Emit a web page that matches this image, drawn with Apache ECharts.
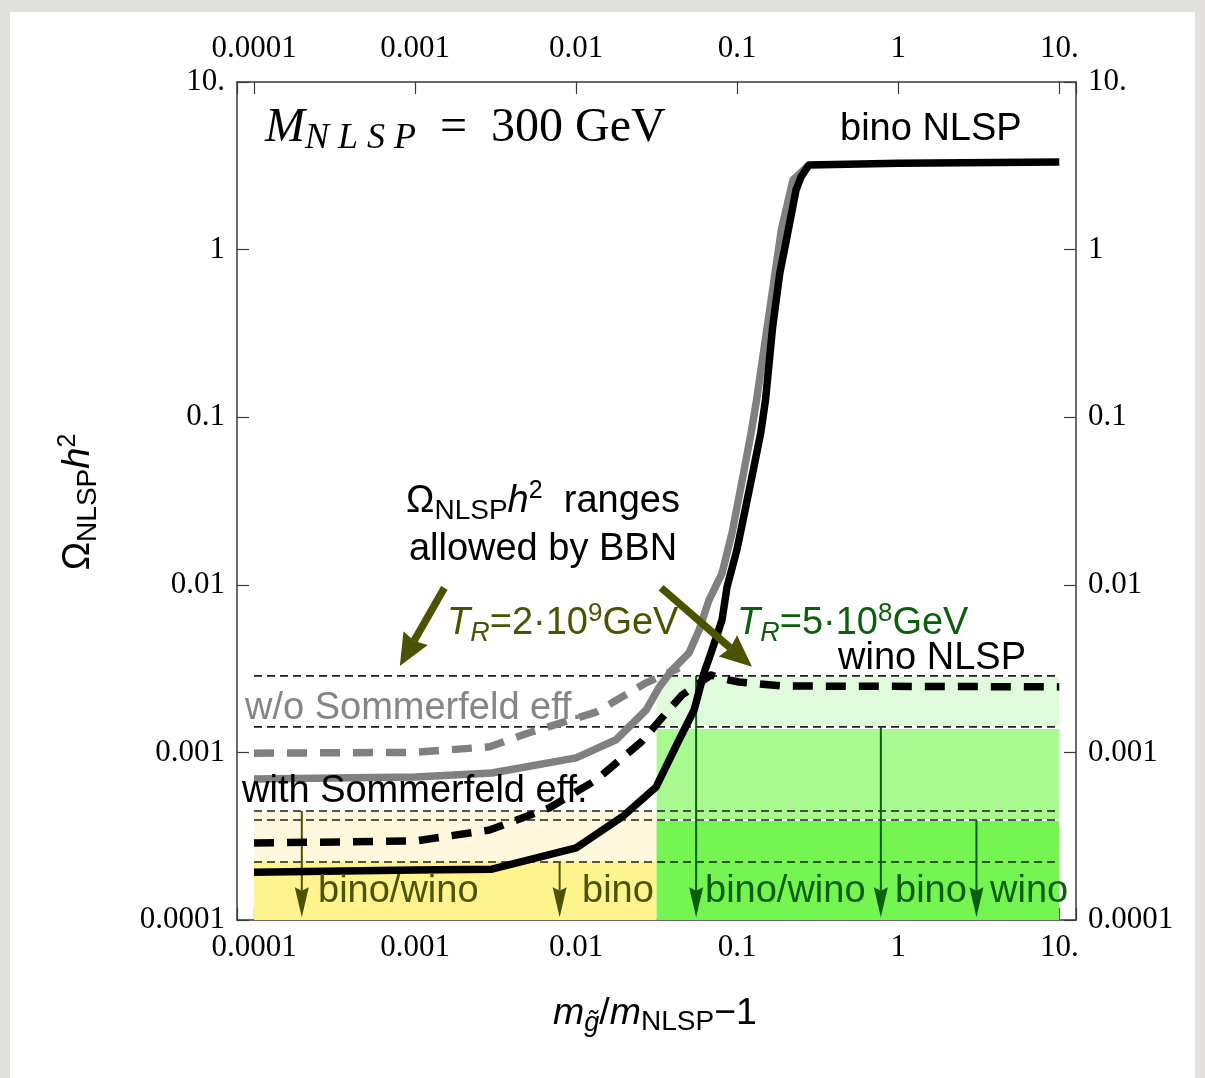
<!DOCTYPE html>
<html>
<head>
<meta charset="utf-8">
<script src="https://cdn.jsdelivr.net/npm/echarts@6.0.0/dist/echarts.min.js"></script>
<style>
html,body{margin:0;padding:0;background:#e2e0dc;}
#card{position:absolute;left:10px;top:12px;width:1185px;height:1066px;background:#ffffff;}
#chart{position:absolute;left:0;top:0;width:1205px;height:1078px;}
</style>
</head>
<body>
<div id="card"></div>
<div id="chart"></div>
<script>
// ---------------- data ----------------
const tickValues = [1e-4, 1e-3, 1e-2, 0.1, 1, 10];
const tickLabels = ['0.0001', '0.001', '0.01', '0.1', '1', '10.'];

// bino NLSP, with Sommerfeld effect (black solid)
const binoWithSommerfeld = [
  [1e-4, 1.93e-4], [1e-3, 1.99e-4], [3.0e-3, 2.01e-4], [0.01, 2.69e-4], [0.0193, 4.12e-4],
  [0.0314, 6.22e-4], [0.0436, 1.19e-3], [0.054, 1.79e-3], [0.0622, 2.98e-3], [0.0698, 4.08e-3],
  [0.0805, 6.17e-3], [0.0865, 9.7e-3], [0.0995, 0.0161], [0.112, 0.0279], [0.127, 0.0505],
  [0.140, 0.0805], [0.150, 0.127], [0.166, 0.345], [0.184, 0.725], [0.202, 1.14],
  [0.232, 2.27], [0.249, 2.71], [0.279, 3.2], [1, 3.28], [10, 3.33]
];
// bino NLSP, without Sommerfeld effect (gray solid)
const binoWithoutSommerfeld = [
  [1e-4, 6.93e-4], [1e-3, 7.13e-4], [3.0e-3, 7.53e-4], [0.01, 9.27e-4], [0.0177, 1.19e-3],
  [0.0272, 1.79e-3], [0.0328, 2.45e-3], [0.0394, 3.1e-3], [0.0502, 3.92e-3], [0.058, 5.37e-3],
  [0.0668, 8.1e-3], [0.0805, 0.0117], [0.0929, 0.0204], [0.1055, 0.0384], [0.122, 0.0805],
  [0.132, 0.127], [0.188, 1.31], [0.222, 2.6], [0.279, 3.2]
];
// wino NLSP, with Sommerfeld effect (black dashed)
const winoWithSommerfeld = [
  [1e-4, 2.88e-4], [1e-3, 2.96e-4], [2.9e-3, 3.44e-4], [6.8e-3, 4.66e-4], [0.0133, 6.84e-4],
  [0.0255, 1.16e-3], [0.0362, 1.72e-3], [0.0455, 2.2e-3], [0.0689, 2.9e-3], [0.0778, 2.78e-3],
  [0.1026, 2.63e-3], [0.19, 2.49e-3], [10, 2.46e-3]
];
// wino NLSP, without Sommerfeld effect (gray dashed)
const winoWithoutSommerfeld = [
  [1e-4, 9.9e-4], [1e-3, 1.0e-3], [2.9e-3, 1.08e-3], [5.1e-3, 1.31e-3], [0.0133, 1.74e-3],
  [0.0272, 2.6e-3], [0.0436, 3.19e-3]
];

// BBN-allowed levels (thin dashed lines)
const bbnLevels = [2.86e-3, 1.42e-3, 4.47e-4, 3.95e-4, 2.22e-4];
const levelXRange = [1e-4, 10];

// shaded ranges: [xFrom, xTo, yFrom, yTo]
const bandRanges = [
  [1e-4, 0.0316, 1e-4, 2.22e-4],
  [1e-4, 0.0316, 2.22e-4, 4.45e-4],
  [0.0316, 10, 1e-4, 3.9e-4],
  [0.0316, 10, 4.0e-4, 1.38e-3],
  [0.0316, 10, 1.44e-3, 2.82e-3]
];
const bandColors = ['#fff38e', '#fff8dc', '#74f551', '#a8fa90', '#e0fbdb'];

// thin vertical arrows
const oliveArrowX = [1.98e-4, 7.9e-3];
const oliveArrowFrom = [4.47e-4, 2.22e-4];
const greenArrowX = [0.0556, 0.78, 3.06];
const greenArrowFrom = [2.86e-3, 1.42e-3, 3.95e-4];
const arrowTipY = 1.04e-4;
// big arrows: [xFrom, yFrom, xTo, yTo]
const bigArrows = [[1.52e-3, 9.6e-3, 8.04e-4, 3.28e-3], [0.0337, 9.6e-3, 0.1236, 3.24e-3]];

// ---------------- styling ----------------
const X_MIN = 7.84e-5, X_MAX = 12.7, Y_MIN = 1e-4, Y_MAX = 10;
const SANS = "'Liberation Sans', Arial, Helvetica, sans-serif";
const SERIF = "'Liberation Serif', 'Times New Roman', serif";
const OLIVE = '#4b5300';
const DGREEN = '#0b5e0b';
const GRAY = '#858585';
const FS = 38;

function tickFmt(v) {
  const i = tickValues.findIndex(t => Math.abs(Math.log10(v / t)) < 1e-6);
  return i < 0 ? '' : tickLabels[i];
}

function axisCommon(pos, margin) {
  return {
    type: 'log', logBase: 10, position: pos,
    axisLine: { show: true, onZero: false, lineStyle: { color: '#3a3a3a', width: 1.5 } },
    axisTick: { show: true, inside: true, length: 12, lineStyle: { color: '#3a3a3a', width: 1.2 } },
    axisLabel: { show: true, formatter: tickFmt, fontFamily: SERIF, fontSize: 31, color: '#000', margin: margin },
    splitLine: { show: false }, minorTick: { show: false }, minorSplitLine: { show: false }
  };
}

function arrowRender(color, lw, headLen, headHalf, notch) {
  return function (params, api) {
    const a = api.coord([api.value(0), api.value(1)]);
    const b = api.coord([api.value(2), api.value(3)]);
    const dx = b[0] - a[0], dy = b[1] - a[1], L = Math.hypot(dx, dy);
    const ux = dx / L, uy = dy / L, nx = -uy, ny = ux;
    const bx = b[0] - ux * headLen, by = b[1] - uy * headLen;
    const mx = bx + ux * headLen * notch, my = by + uy * headLen * notch;
    return {
      type: 'group', children: [
        { type: 'line', shape: { x1: a[0], y1: a[1], x2: mx, y2: my }, style: { stroke: color, lineWidth: lw } },
        { type: 'polygon', shape: { points: [[b[0], b[1]], [bx + nx * headHalf, by + ny * headHalf], [mx, my], [bx - nx * headHalf, by - ny * headHalf]] }, style: { fill: color } }
      ]
    };
  };
}

// rich text builder: baseline-controlled fragments
function richText(o) {
  const S = o.size, LH = o.lh || Math.round(S * 1.2), k = o.k || 0.3465, fam = o.family || SANS;
  const Bm = LH / 2 + k * S;
  const rich = {};
  for (const name in o.parts) {
    const p = o.parts[name];
    const s = p.size || S;
    const B = Bm + (p.dy || 0);
    const c = B - k * s;
    const st = { fontSize: s, fontFamily: fam, fill: p.color || o.color, fontStyle: p.italic ? 'italic' : 'normal' };
    if (Math.abs(c - LH / 2) < 0.01) { st.lineHeight = LH; }
    else if (c < LH / 2) { st.verticalAlign = 'top'; st.lineHeight = 2 * c; }
    else { st.verticalAlign = 'bottom'; st.lineHeight = 2 * (LH - c); }
    rich[name] = st;
  }
  const el = {
    type: 'text', z: 100, silent: true,
    style: { text: o.text, rich: rich, align: o.align || 'left', verticalAlign: 'top', fill: o.color }
  };
  if (o.rotate) {
    el.x = o.x - Bm; el.y = o.y; el.rotation = Math.PI / 2;
  } else {
    el.x = o.x; el.y = o.y - Bm;
  }
  return el;
}

const plain = { n: {} };
const texts = [
  richText({ x: 265, y: 145, size: 48, lh: 56, k: 0.3375, family: SERIF, color: '#000',
    text: '{i|M}{s|N\u2005L\u2005S\u2005P}{n|\u2002=\u2002300 GeV}',
    parts: { n: {}, i: { italic: true }, s: { size: 36, dy: 4, italic: true } } }),
  richText({ x: 840, y: 143, size: FS, color: '#000', text: '{n|bino NLSP}', parts: plain }),
  richText({ x: 543, y: 515, size: FS, color: '#000', align: 'center',
    text: '{n|\u03A9}{s|NLSP}{i|h}{p|2}{n|  ranges}',
    parts: { n: {}, s: { size: 28, dy: 7 }, i: { italic: true }, p: { size: 25, dy: -14 } } }),
  richText({ x: 543, y: 563, size: FS, color: '#000', align: 'center', text: '{n|allowed by BBN}', parts: plain }),
  richText({ x: 447, y: 637, size: FS, color: OLIVE,
    text: '{i|T}{s|R}{n|=2\u00B710}{p|9}{n|GeV}',
    parts: { n: {}, i: { italic: true }, s: { size: 27, dy: 5, italic: true }, p: { size: 26, dy: -15 } } }),
  richText({ x: 737, y: 637, size: FS, color: DGREEN,
    text: '{i|T}{s|R}{n|=5\u00B710}{p|8}{n|GeV}',
    parts: { n: {}, i: { italic: true }, s: { size: 27, dy: 5, italic: true }, p: { size: 26, dy: -15 } } }),
  richText({ x: 838, y: 672, size: FS, color: '#000', text: '{n|wino NLSP}', parts: plain }),
  richText({ x: 245, y: 722, size: FS, color: GRAY, text: '{n|w/o Sommerfeld eff.}', parts: plain }),
  richText({ x: 242, y: 805, size: FS, color: '#000', text: '{n|with Sommerfeld eff.}', parts: plain }),
  richText({ x: 318, y: 905, size: FS, color: OLIVE, text: '{n|bino/wino}', parts: plain }),
  richText({ x: 582, y: 905, size: FS, color: OLIVE, text: '{n|bino}', parts: plain }),
  richText({ x: 705, y: 905, size: FS, color: DGREEN, text: '{n|bino/wino}', parts: plain }),
  richText({ x: 895, y: 905, size: FS, color: DGREEN, text: '{n|bino}', parts: plain }),
  richText({ x: 990, y: 905, size: FS, color: DGREEN, text: '{n|wino}', parts: plain }),
  // axis titles
  richText({ x: 92, y: 502, size: 38, color: '#000', align: 'center', rotate: true,
    text: '{n|\u03A9}{s|NLSP}{i|h}{p|2}',
    parts: { n: {}, s: { size: 28, dy: 7 }, i: { italic: true }, p: { size: 25, dy: -15 } } }),
  richText({ x: 655, y: 1027, size: 37.5, color: '#000', align: 'center',
    text: '{i|m}{g|g\u0303}{n|/}{i|m}{s|NLSP}{n|\u22121}',
    parts: { n: {}, i: { italic: true }, g: { size: 27, dy: 7, italic: true }, s: { size: 28, dy: 7 } } })
];

const option = {
  animation: false,
  backgroundColor: 'transparent',
  grid: { left: 237, right: 129, top: 82, bottom: 158, containLabel: false },
  xAxis: [
    Object.assign(axisCommon('bottom', 12), { min: X_MIN, max: X_MAX }),
    Object.assign(axisCommon('top', 18), { min: X_MIN, max: X_MAX })
  ],
  yAxis: [
    Object.assign(axisCommon('left', 12), { min: Y_MIN, max: Y_MAX }),
    Object.assign(axisCommon('right', 12), { min: Y_MIN, max: Y_MAX })
  ],
  graphic: { elements: texts },
  series: [
    {
      type: 'custom', name: 'bands', z: 1, silent: true, clip: true,
      encode: { x: [0, 1], y: [2, 3] },
      data: bandRanges,
      renderItem: function (params, api) {
        const p1 = api.coord([api.value(0), api.value(2)]);
        const p2 = api.coord([api.value(1), api.value(3)]);
        return { type: 'rect', shape: { x: p1[0], y: p2[1], width: p2[0] - p1[0], height: p1[1] - p2[1] },
          style: { fill: bandColors[params.dataIndex] } };
      }
    },
    {
      type: 'custom', name: 'levels', z: 2, silent: true,
      encode: { x: [0, 1], y: 2 },
      data: bbnLevels.map(v => [levelXRange[0], levelXRange[1], v]),
      renderItem: function (params, api) {
        const p1 = api.coord([api.value(0), api.value(2)]);
        const p2 = api.coord([api.value(1), api.value(2)]);
        return { type: 'line', shape: { x1: p1[0], y1: p1[1], x2: p2[0], y2: p2[1] },
          style: { stroke: '#1e1e1e', lineWidth: 1.6, lineDash: [8, 5] } };
      }
    },
    {
      type: 'custom', name: 'oliveArrows', z: 3, silent: true,
      encode: { x: [0, 2], y: [1, 3] },
      data: oliveArrowX.map((x, i) => [x, oliveArrowFrom[i], x, arrowTipY]),
      renderItem: arrowRender(OLIVE, 2, 30, 7, 0.12)
    },
    {
      type: 'custom', name: 'greenArrows', z: 3, silent: true,
      encode: { x: [0, 2], y: [1, 3] },
      data: greenArrowX.map((x, i) => [x, greenArrowFrom[i], x, arrowTipY]),
      renderItem: arrowRender(DGREEN, 2, 30, 7, 0.12)
    },
    {
      type: 'line', name: 'wino w/o SF', z: 4, silent: true, showSymbol: false, symbol: 'none',
      data: winoWithoutSommerfeld,
      lineStyle: { color: '#808080', width: 7.5, type: [20, 13], cap: 'butt', join: 'round' }
    },
    {
      type: 'line', name: 'bino w/o SF', z: 5, silent: true, showSymbol: false, symbol: 'none',
      data: binoWithoutSommerfeld,
      lineStyle: { color: '#808080', width: 7.5, join: 'round' }
    },
    {
      type: 'line', name: 'wino with SF', z: 6, silent: true, showSymbol: false, symbol: 'none',
      data: winoWithSommerfeld,
      lineStyle: { color: '#000000', width: 7.5, type: [20, 13], cap: 'butt', join: 'round' }
    },
    {
      type: 'line', name: 'bino with SF', z: 7, silent: true, showSymbol: false, symbol: 'none',
      data: binoWithSommerfeld,
      lineStyle: { color: '#000000', width: 7.5, join: 'round' }
    },
    {
      type: 'custom', name: 'bigArrows', z: 8, silent: true,
      encode: { x: [0, 2], y: [1, 3] },
      data: bigArrows,
      renderItem: arrowRender(OLIVE, 7.5, 32, 14, 0.1)
    }
  ]
};

const chart = echarts.init(document.getElementById('chart'), null, { renderer: 'canvas' });
chart.setOption(option);
</script>
</body>
</html>
